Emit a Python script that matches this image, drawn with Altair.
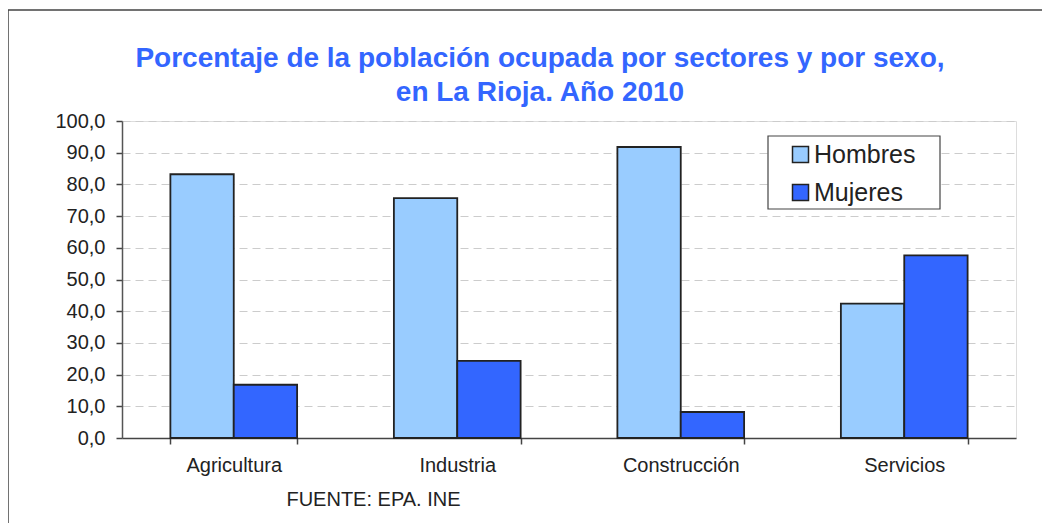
import altair as alt
import pandas as pd

sectores = ["Agricultura", "Industria", "Construcción", "Servicios"]
hombres = [83.2, 75.7, 91.8, 42.4]
mujeres = [16.8, 24.3, 8.2, 57.6]
series = ["Hombres", "Mujeres"]
colores = ["#99CCFF", "#3366FF"]
y_ticks = [0, 10, 20, 30, 40, 50, 60, 70, 80, 90, 100]
titulo = ["Porcentaje de la población ocupada por sectores y por sexo,",
          "en La Rioja. Año 2010"]

rows = []
for s, h, m in zip(sectores, hombres, mujeres):
    rows.append({"sector": s, "sexo": "Hombres", "valor": h})
    rows.append({"sector": s, "sexo": "Mujeres", "valor": m})
df = pd.DataFrame(rows)

FONT = "Liberation Sans"
TXT = "#222222"

frame = alt.Chart(alt.Data(values=[{}])).mark_rect(
    fill="white", fillOpacity=0, stroke="#444444", strokeWidth=1.5
).encode(
    x=alt.value(-114), x2=alt.value(1000), y=alt.value(-111), y2=alt.value(500)
)

legend_box = alt.Chart(alt.Data(values=[{}])).mark_rect(
    fill="white", stroke="#444444", strokeWidth=1.2
).encode(
    x=alt.value(646), x2=alt.value(818), y=alt.value(15), y2=alt.value(88)
)

title1 = alt.Chart(alt.Data(values=[{"t": titulo[0]}])).mark_text(
    font=FONT, fontSize=28, fontWeight="bold", color="#3366FF",
    align="center", baseline="alphabetic"
).encode(x=alt.value(418), y=alt.value(-54), text="t:N")

title2 = alt.Chart(alt.Data(values=[{"t": titulo[1]}])).mark_text(
    font=FONT, fontSize=28, fontWeight="bold", color="#3366FF",
    align="center", baseline="alphabetic"
).encode(x=alt.value(418), y=alt.value(-20), text="t:N")

bars = alt.Chart(df).mark_bar(stroke="#222222", strokeWidth=1.8).encode(
    x=alt.X(
        "sector:N", sort=sectores,
        scale=alt.Scale(paddingInner=0.433, paddingOuter=0.2165),
        axis=alt.Axis(
            title="FUENTE: EPA. INE", titleX=251, titleY=67, titleAlign="center",
            titleBaseline="alphabetic", titleFont=FONT, titleFontSize=20,
            titleFontWeight="normal", titleColor=TXT,
            labelAngle=0, labelFont=FONT, labelFontSize=20, labelColor=TXT,
            labelBaseline="alphabetic", labelPadding=27,
            tickBand="extent", tickSize=6, tickColor="#444444", tickWidth=1.5,
            domainColor="#444444", domainWidth=1.5, grid=False,
        ),
    ),
    xOffset=alt.XOffset("sexo:N", sort=series,
                        scale=alt.Scale(paddingInner=0, paddingOuter=0)),
    y=alt.Y(
        "valor:Q",
        scale=alt.Scale(domain=[0, 100], nice=False),
        axis=alt.Axis(
            title=None, values=y_ticks, format=".1f",
            labelExpr="replace(datum.label, '.', ',')",
            labelFont=FONT, labelFontSize=20, labelColor=TXT, labelPadding=11,
            tickSize=6, tickColor="#444444", tickWidth=1.5,
            domainColor="#555555", domainWidth=1.5,
            grid=True, gridColor="#cccccc", gridDash=[8, 5], gridWidth=1,
        ),
    ),
    color=alt.Color(
        "sexo:N", sort=series,
        scale=alt.Scale(domain=series, range=colores),
        legend=alt.Legend(
            title=None, orient="none", legendX=646, legendY=15,
            direction="vertical", labelFont=FONT, labelFontSize=25,
            labelColor=TXT, symbolType="square", symbolSize=256,
            symbolStrokeColor="#222222", symbolStrokeWidth=1.5,
            padding=6, rowPadding=12, symbolOffset=14, labelOffset=1,
        ),
    ),
)

chart = alt.layer(frame, legend_box, bars, title1, title2).properties(
    width=894, height=317,
    autosize="none",
    padding={"left": 114, "top": 113, "right": 26, "bottom": 85},
).configure_view(stroke="#999999", strokeWidth=1.5).configure(background="white")

chart.save("out.html", embed_options={"renderer": "svg", "actions": False})
